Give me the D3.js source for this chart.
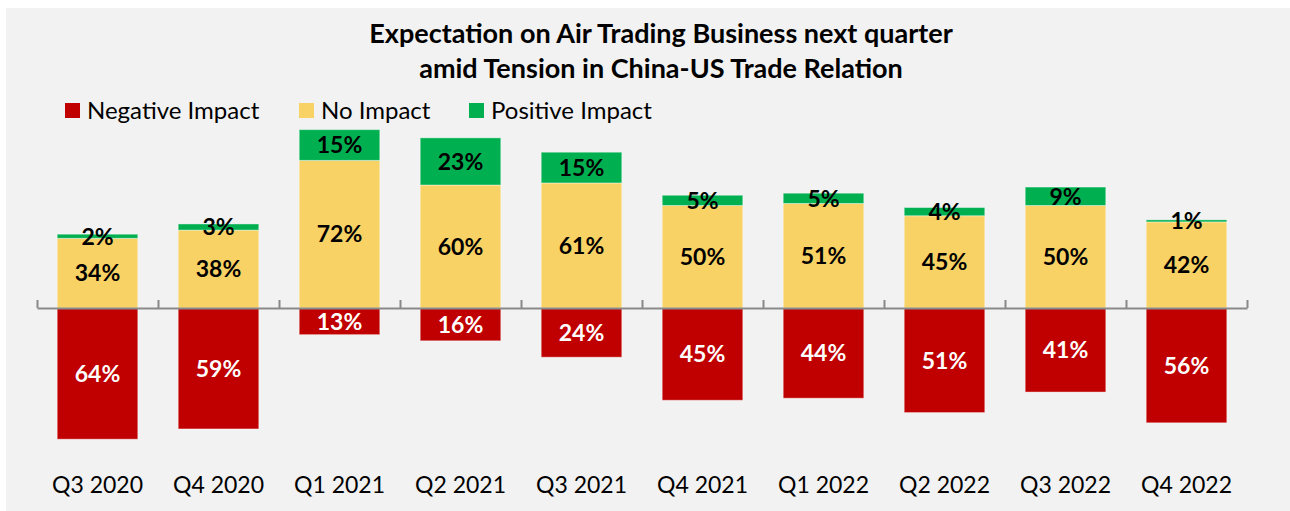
<!DOCTYPE html>
<html>
<head>
<meta charset="utf-8">
<script src="https://cdn.jsdelivr.net/npm/d3@7"></script>
<style>
  body { margin: 0; background: #fff; }
  svg text { font-family: Lato, "Open Sans", sans-serif; }
</style>
</head>
<body>
<svg id="chart" width="1290" height="511"></svg>
<script>
var quarters = ["Q3 2020", "Q4 2020", "Q1 2021", "Q2 2021", "Q3 2021", "Q4 2021", "Q1 2022", "Q2 2022", "Q3 2022", "Q4 2022"];
var negative = [64, 59, 13, 16, 24, 45, 44, 51, 41, 56];
var noImpact = [34, 38, 72, 60, 61, 50, 51, 45, 50, 42];
var positive = [2, 3, 15, 23, 15, 5, 5, 4, 9, 1];
var legendNames = ["Negative Impact", "No Impact", "Positive Impact"];
var colors = ["#C00000", "#F8D264", "#00B050"];

var svg = d3.select("#chart");

// grey panel
svg.append("rect").attr("x", 6).attr("y", 8).attr("width", 1284).attr("height", 503).attr("fill", "#f2f2f2");

var x = d3.scaleBand().domain(quarters).range([37, 1247]).paddingInner(0.334).paddingOuter(0.167);
var y = d3.scaleLinear().domain([-80, 100]).range([308 + 80 * 2.05, 308 - 100 * 2.05]);

// title
var title = svg.append("text").attr("text-anchor", "middle").attr("font-weight", "bold").attr("font-size", 27).attr("fill", "#000");
title.append("tspan").attr("x", 661).attr("y", 43).text("Expectation on Air Trading Business next quarter");
title.append("tspan").attr("x", 661).attr("y", 78).text("amid Tension in China-US Trade Relation");

// legend
var legendX = [65, 299, 469];
var lg = svg.selectAll(".lg").data(legendNames).enter().append("g").attr("class", "lg")
  .attr("transform", (d, i) => "translate(" + legendX[i] + ",0)");
lg.append("rect").attr("x", 0).attr("y", 103).attr("width", 15).attr("height", 15).attr("fill", (d, i) => colors[i]);
lg.append("text").attr("x", 22).attr("y", 119).attr("font-size", 24).attr("fill", "#000").text(d => d);

// stacked bars
var rows = quarters.map((q, i) => ({q: q, neg: negative[i], no: noImpact[i], pos: positive[i]}));
var segs = [];
rows.forEach(r => {
  segs.push({q: r.q, y0: -r.neg, y1: 0, v: r.neg, c: colors[0], t: "#fff"});
  segs.push({q: r.q, y0: 0, y1: r.no, v: r.no, c: colors[1], t: "#000"});
  segs.push({q: r.q, y0: r.no, y1: r.no + r.pos, v: r.pos, c: colors[2], t: "#000"});
});

svg.selectAll(".seg").data(segs).enter().append("rect").attr("class", "seg")
  .attr("x", d => x(d.q))
  .attr("width", x.bandwidth())
  .attr("y", d => y(d.y1))
  .attr("height", d => y(d.y0) - y(d.y1))
  .attr("fill", d => d.c)
  .attr("stroke", "#fff").attr("stroke-opacity", 0.4).attr("stroke-width", 1);

// axis with boundary ticks
var bounds = d3.scaleLinear().domain([0, quarters.length]).range([37, 1247]);
var axis = svg.append("g").attr("transform", "translate(0," + y(0) + ")")
  .call(d3.axisTop(bounds).tickValues(d3.range(0, quarters.length + 1)).tickSize(8).tickSizeOuter(0).tickFormat(""));
axis.selectAll("path, line").attr("stroke", "#898989").attr("stroke-width", 2);

svg.selectAll(".lbl").data(segs).enter().append("text").attr("class", "lbl")
  .attr("x", d => x(d.q) + x.bandwidth() / 2)
  .attr("y", d => (y(d.y0) + y(d.y1)) / 2)
  .attr("dy", "0.36em")
  .attr("text-anchor", "middle")
  .attr("font-weight", "bold")
  .attr("font-size", 23)
  .attr("fill", d => d.t)
  .text(d => d.v + "%");

// category labels
var cat = svg.append("g").attr("transform", "translate(0,493)")
  .call(d3.axisBottom(x).tickSize(0).tickPadding(0));
cat.select(".domain").remove();
cat.selectAll("text").attr("dy", null).attr("y", 0).attr("font-size", 23).attr("fill", "#000")
  .style("font-family", "Lato, 'Open Sans', sans-serif");
</script>
</body>
</html>
